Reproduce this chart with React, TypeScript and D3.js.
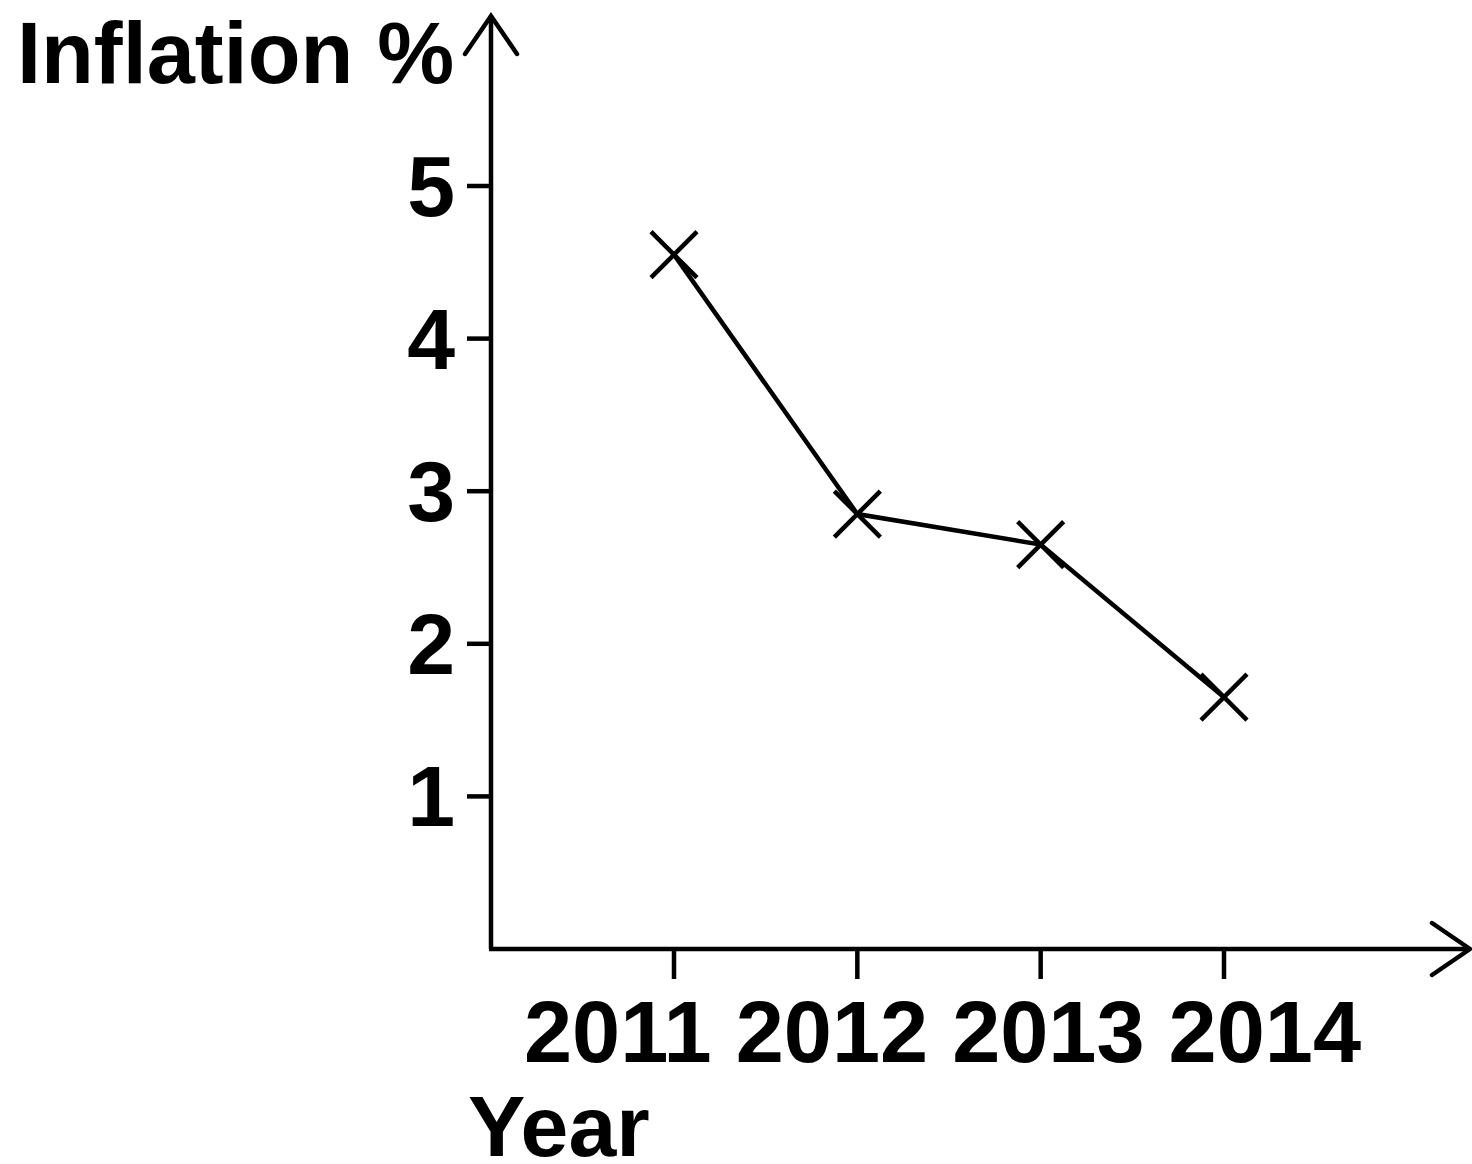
import React from "react";
import * as d3 from "d3";

const years: number[] = [2011, 2012, 2013, 2014];
const inflation: number[] = [4.55, 2.85, 2.65, 1.65];
const yTicks: number[] = [1, 2, 3, 4, 5];
const yAxisTitle = "Inflation %";
const xAxisTitle = "Year";

const W = 1472;
const H = 1164;
const FONT = "'Liberation Sans', Arial, Helvetica, sans-serif";

export default function App() {
  const axisX = 491;
  const axisY = 949;
  const x = d3.scaleLinear().domain([2011, 2014]).range([674, 1224]);
  const y = d3.scaleLinear().domain([0, 5]).range([axisY, 186]);
  const line = d3
    .line<number>()
    .x((_, i) => x(years[i]))
    .y((d) => y(d));

  const sw = 4.5;
  const m = 23;
  const ah = 26;
  const al = 38;

  return (
    <svg
      width={W}
      height={H}
      viewBox={`0 0 ${W} ${H}`}
      style={{ position: "absolute", left: 0, top: 0, background: "#fff" }}
    >
      <rect x={0} y={0} width={W} height={H} fill="#fff" />
      <line x1={axisX} y1={axisY} x2={axisX} y2={16} stroke="#000" strokeWidth={sw} />
      <line x1={axisX - 2} y1={axisY} x2={W - 2} y2={axisY} stroke="#000" strokeWidth={sw} />
      <polyline
        points={`${axisX - ah},${16 + al} ${axisX},${16} ${axisX + ah},${16 + al}`}
        fill="none"
        stroke="#000"
        strokeWidth={sw}
        strokeLinecap="round"
      />
      <polyline
        points={`${W - 2 - al},${axisY - ah} ${W - 2},${axisY} ${W - 2 - al},${axisY + ah}`}
        fill="none"
        stroke="#000"
        strokeWidth={sw}
        strokeLinecap="round"
      />
      {yTicks.map((t) => (
        <g key={t}>
          <line x1={axisX - 24} x2={axisX} y1={y(t)} y2={y(t)} stroke="#000" strokeWidth={sw} />
          <text
            x={455}
            y={y(t) + 30}
            textAnchor="end"
            fontFamily={FONT}
            fontWeight="bold"
            fontSize={86}
            fill="#000"
          >
            {t}
          </text>
        </g>
      ))}
      {years.map((yr) => (
        <line key={yr} x1={x(yr)} x2={x(yr)} y1={axisY} y2={axisY + 30} stroke="#000" strokeWidth={sw} />
      ))}
      <text
        x={524}
        y={1062}
        fontFamily={FONT}
        fontWeight="bold"
        fontSize={86.5}
        fill="#000"
        style={{ whiteSpace: "pre" }}
      >
        {years.join(" ")}
      </text>
      <text x={17} y={83} fontFamily={FONT} fontWeight="bold" fontSize={86.5} fill="#000">
        {yAxisTitle}
      </text>
      <text x={468} y={1156} fontFamily={FONT} fontWeight="bold" fontSize={86} fill="#000">
        {xAxisTitle}
      </text>
      <path d={line(inflation) || ""} fill="none" stroke="#000" strokeWidth={sw} />
      {inflation.map((v, i) => {
        const cx = x(years[i]);
        const cy = y(v);
        return (
          <g key={i}>
            <line x1={cx - m} y1={cy - m} x2={cx + m} y2={cy + m} stroke="#000" strokeWidth={sw} />
            <line x1={cx - m} y1={cy + m} x2={cx + m} y2={cy - m} stroke="#000" strokeWidth={sw} />
          </g>
        );
      })}
    </svg>
  );
}
